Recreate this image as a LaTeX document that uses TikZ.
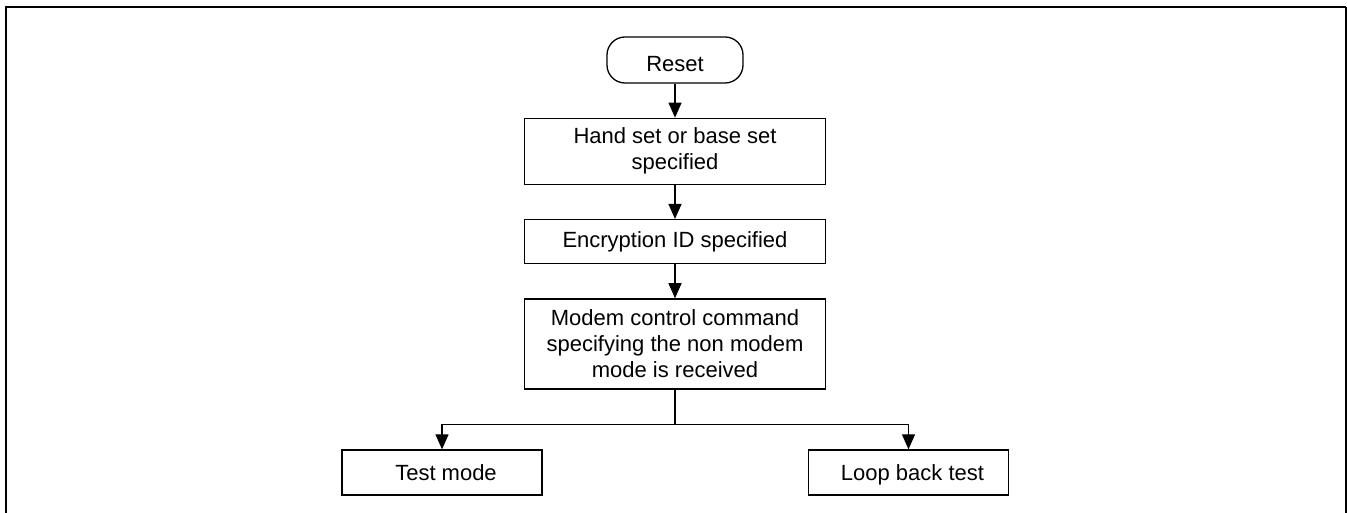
\documentclass[tikz,border=0pt]{standalone}
\usepackage{fontspec}
\setmainfont{Liberation Sans}
\usetikzlibrary{positioning}
\usetikzlibrary{arrows.meta}

\begin{document}
\begin{tikzpicture}[x=1pt,y=1pt,
  every node/.style={draw,rectangle,line width=1.3pt,align=center,
    font=\fontsize{22}{26}\selectfont,inner sep=0pt},
  stepbox/.style={minimum width=301pt},
  endbox/.style={minimum width=200pt,minimum height=45pt,text height=16pt,text depth=0pt},
  >={Triangle[length=15pt,width=13pt]}]
\useasboundingbox (0,0) rectangle (1347,513);
% frame, open at the bottom
\draw[line width=1.8pt] (6,-5) -- (6,506) -- (1346,506);
\draw[line width=1.2pt] (1346,506) -- (1346,-5);
\begin{scope}[node distance=34pt]
\node [rounded corners=18pt,minimum width=136pt,minimum height=46pt,text height=24pt,text depth=0pt] (r) at (675,453) {Reset};
\node [stepbox,minimum height=66pt,below=of r] (h) {Hand set or base set\\specified};
\node [stepbox,minimum height=44pt,below=of h] (e) {Encryption ID specified};
\node [stepbox,minimum height=90pt,below=of e] (m) {Modem control command\\specifying the non modem\\mode is received};
\end{scope}
\node [endbox] (t) at (442,40.5) {\hspace*{8pt}Test mode};
\node [endbox] (l) at (908.5,40.5) {\hspace*{8pt}Loop back test};
\begin{scope}[line width=1.2pt]
\draw[->] (r) -- (h);
\draw[->] (h) -- (e);
\draw[->] (e) -- (m);
\draw[->] (m.south) -- ++(0,-35) -| (t);
\draw[->] (m.south) -- ++(0,-35) -| (l);
\end{scope}
\end{tikzpicture}
\end{document}
